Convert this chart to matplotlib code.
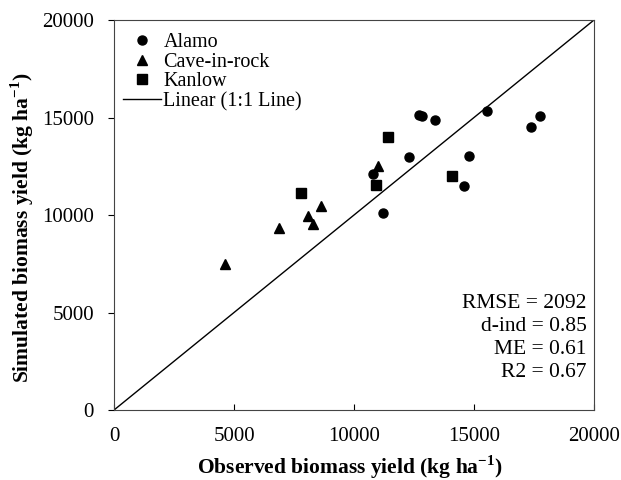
import matplotlib.pyplot as plt

plt.rcParams['font.family'] = ['Liberation Serif', 'DejaVu Serif']
plt.rcParams['mathtext.fontset'] = 'custom'
plt.rcParams['mathtext.rm'] = 'Liberation Serif'
plt.rcParams['mathtext.bf'] = 'Liberation Serif:bold'

# observed vs simulated biomass (kg/ha)
alamo_obs = [10780, 11220, 12290, 12700, 12850, 13380, 14790, 14600, 15560, 17380, 17750]
alamo_sim = [12090, 10120, 12960, 15150, 15100, 14890, 13030, 11470, 15350, 14500, 15080]
cave_obs = [4630, 6880, 8100, 8300, 8640, 10990]
cave_sim = [7490, 9350, 9970, 9540, 10460, 12500]
kanlow_obs = [7790, 10930, 11400, 14070]
kanlow_sim = [11110, 11540, 14000, 12020]
line_x = [0, 20000]
stats = ['RMSE = 2092', 'd-ind = 0.85', 'ME = 0.61', 'R2 = 0.67']

fig = plt.figure(figsize=(6.21, 4.8), dpi=100)
ax = fig.add_axes([0.1836, 0.1458, 0.7729, 0.8125])

ax.plot(alamo_obs, alamo_sim, 'o', color='black', ms=6.5, label='Alamo')
ax.plot(cave_obs, cave_sim, '^', color='black', ms=6.5, label='Cave-in-rock')
ax.plot(kanlow_obs, kanlow_sim, 's', color='black', ms=6.5, label='Kanlow')
ax.plot(line_x, line_x, '-', color='black', lw=1, label='Linear (1:1 Line)')

ax.set_xlim(0, 20000)
ax.set_ylim(0, 20000)
ax.set_xticks([0, 5000, 10000, 15000, 20000])
ax.set_yticks([0, 5000, 10000, 15000, 20000])
ax.tick_params(axis='x', direction='in', labelsize=15, pad=12, length=4)
ax.tick_params(axis='y', direction='out', labelsize=15, pad=10, length=4.5)
for s in ax.spines.values():
    s.set_color('#444444')

ax.set_xlabel(r'Observed biomass yield (kg ha$^{\mathbf{-1}}$)', fontsize=15.5, fontweight='bold', va='center')
ax.set_ylabel(r'Simulated biomass yield (kg ha$^{\mathbf{-1}}$)', fontsize=15.5, fontweight='bold', va='center')
ax.xaxis.set_label_coords(0.492, -0.146)
ax.yaxis.set_label_coords(-0.192, 0.467)

ax.legend(loc='upper left', bbox_to_anchor=(0, 0.99), frameon=False, fontsize=14.5,
          handlelength=1.9, handletextpad=0.1, labelspacing=0.03,
          borderaxespad=0.1, borderpad=0.35)

for i, t in enumerate(stats):
    ax.text(0.985, 0.2744 - i * 0.0598, t, transform=ax.transAxes, ha='right',
            va='center', fontsize=15.5)

fig.savefig('out.png')
